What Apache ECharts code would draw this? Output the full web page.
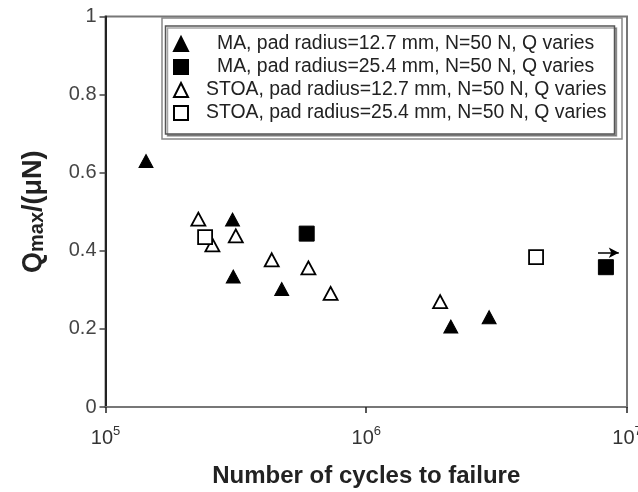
<!DOCTYPE html>
<html>
<head>
<meta charset="utf-8">
<script src="https://cdn.jsdelivr.net/npm/echarts@6/dist/echarts.min.js"></script>
<style>
html,body{margin:0;padding:0;background:#fff;}
#chart{width:638px;height:492px;}
</style>
</head>
<body>
<div id="chart"></div>
<script>
// Data (cycles to failure, Qmax/(muN))
const seriesNames = [
  'MA, pad radius=12.7 mm, N=50 N, Q varies',
  'MA, pad radius=25.4 mm, N=50 N, Q varies',
  'STOA, pad radius=12.7 mm, N=50 N, Q varies',
  'STOA, pad radius=25.4 mm, N=50 N, Q varies'
];
const maSmall = [[1.43e5,0.63],[3.07e5,0.48],[3.09e5,0.334],[4.74e5,0.302],[2.11e6,0.206],[2.96e6,0.23]];
const maLarge = [[5.91e5,0.444],[8.3e6,0.358]];
const stoaSmall = [[2.27e5,0.481],[2.57e5,0.415],[3.16e5,0.438],[4.34e5,0.377],[6.0e5,0.356],[7.3e5,0.291],[1.92e6,0.27]];
const stoaLarge = [[2.41e5,0.435],[4.48e6,0.384]];
const runoutArrow = [[7.74e6,0.395],[9.3e6,0.395]];
const xTicks = [1e5, 1e6, 1e7];
const yTicks = [0, 0.2, 0.4, 0.6, 0.8, 1];

const FONT = 'Liberation Sans, Arial, sans-serif';
const chart = echarts.init(document.getElementById('chart'));
const legendRich = {
  ma: {padding:[0,0,0,24], fontSize:19.4, color:'#222', fontFamily:FONT},
  st: {padding:[0,0,0,13], fontSize:19.4, color:'#222', fontFamily:FONT}
};
chart.setOption({
  backgroundColor:'#fff',
  animation:false,
  grid:{left:105.5, right:11, top:16.5, bottom:85, containLabel:false, outerBoundsMode:'none',
    show:true, borderColor:'#777', borderWidth:2, backgroundColor:'transparent'},
  xAxis:{
    type:'log', logBase:10, min:xTicks[0], max:xTicks[xTicks.length-1],
    axisLine:{show:true, lineStyle:{color:'#777', width:2}},
    axisTick:{show:true, length:6, lineStyle:{color:'#222', width:1.5}},
    minorTick:{show:false},
    splitLine:{show:false},
    axisLabel:{
      margin:18,
      formatter:function(v){ return '{b|10}{s|' + Math.round(Math.log10(v)) + '}'; },
      rich:{
        b:{fontSize:20, color:'#333', fontFamily:FONT, verticalAlign:'bottom'},
        s:{fontSize:13, color:'#333', fontFamily:FONT, verticalAlign:'top', padding:[0,0,10,0]}
      }
    },
    name:'Number of cycles to failure', nameLocation:'middle', nameGap:57,
    nameTextStyle:{fontSize:24, fontWeight:'bold', color:'#222', fontFamily:FONT}
  },
  yAxis:{
    type:'value', min:yTicks[0], max:yTicks[yTicks.length-1], interval:0.2,
    axisLine:{show:true, lineStyle:{color:'#222', width:2}},
    axisTick:{show:true, length:6, lineStyle:{color:'#444', width:1.5}},
    splitLine:{show:false},
    axisLabel:{margin:9, fontSize:20, color:'#444', fontFamily:FONT,
      formatter:function(v){ return String(Math.round(v*10)/10); }},
    name:'{q|Q}{m|max}{q|/(μN)}', nameLocation:'middle', nameGap:58, nameRotate:90,
    nameTextStyle:{rich:{
      q:{fontSize:27, fontWeight:'bold', color:'#222', fontFamily:FONT},
      m:{fontSize:20, fontWeight:'bold', color:'#222', fontFamily:FONT, verticalAlign:'bottom', padding:[8,0,0,0]}
    }}
  },
  legend:{
    orient:'vertical', left:168, top:29,
    itemWidth:14, itemHeight:14, itemGap:3,
    textStyle:{fontSize:19.4, lineHeight:20, color:'#222', fontFamily:FONT, rich:legendRich},
    formatter:function(n){ return n.indexOf('MA')===0 ? '{ma|'+n+'}' : '{st|'+n+'}'; },
    data:seriesNames
  },
  graphic:[
    {type:'rect', shape:{x:162, y:18, width:460, height:121}, style:{fill:'none', stroke:'#888', lineWidth:1.5}, z:0},
    {type:'rect', shape:{x:165.5, y:26, width:449, height:108}, style:{fill:'#fff', stroke:'#555', lineWidth:1.5, shadowColor:'rgba(0,0,0,0.35)', shadowOffsetX:2, shadowOffsetY:2}, z:0}
  ],
  series:[
    {name:seriesNames[0], type:'scatter', symbol:'triangle', symbolSize:[14,13], data:maSmall,
      itemStyle:{color:'#000', borderColor:'#000', borderWidth:1, opacity:1}},
    {name:seriesNames[1], type:'scatter', symbol:'rect', symbolSize:15, data:maLarge,
      itemStyle:{color:'#000', borderColor:'#000', borderWidth:1, opacity:1},
      markLine:{silent:true, symbol:['none','arrow'], symbolSize:[8,10], label:{show:false},
        lineStyle:{color:'#000', width:1.5, type:'solid', opacity:1},
        data:[[{coord:runoutArrow[0]},{coord:runoutArrow[1]}]]}},
    {name:seriesNames[2], type:'scatter', symbol:'triangle', symbolSize:[14,13], data:stoaSmall,
      itemStyle:{color:'#fff', borderColor:'#000', borderWidth:1.8, opacity:1}},
    {name:seriesNames[3], type:'scatter', symbol:'rect', symbolSize:14, data:stoaLarge,
      itemStyle:{color:'#fff', borderColor:'#000', borderWidth:1.8, opacity:1}}
  ]
});
</script>
</body>
</html>
